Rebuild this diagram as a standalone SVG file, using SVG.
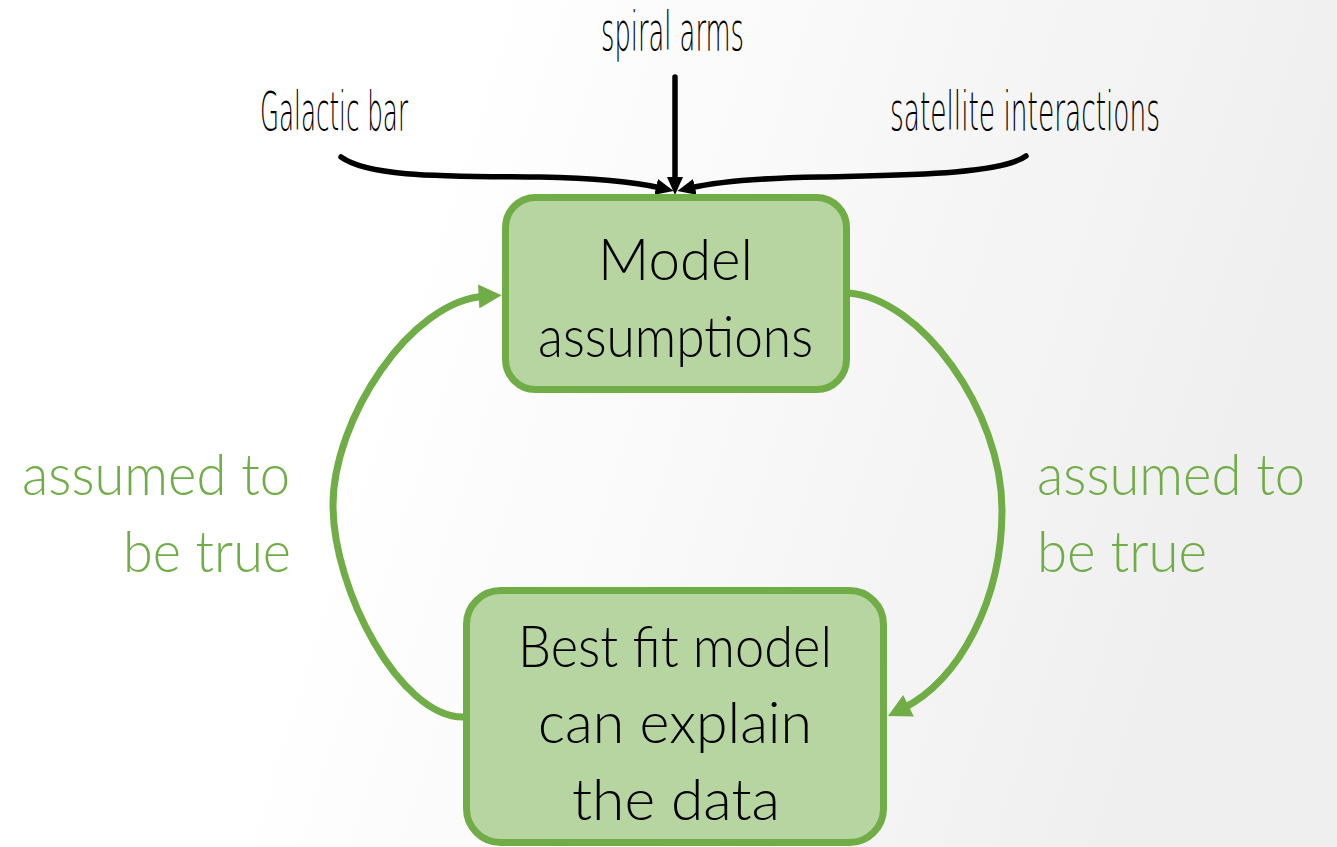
<svg xmlns="http://www.w3.org/2000/svg" width="1337" height="847" viewBox="0 0 1337 847">
  <defs>
    <linearGradient id="bg" x1="0" y1="0" x2="1" y2="0.2">
      <stop offset="0" stop-color="#ffffff"/>
      <stop offset="0.35" stop-color="#ffffff"/>
      <stop offset="1" stop-color="#efefef"/>
    </linearGradient>
    <marker id="gArrow" markerUnits="userSpaceOnUse" markerWidth="24" markerHeight="24" viewBox="0 0 22 23" refX="7" refY="11.5" orient="auto">
      <path d="M0,0 L22,11.5 L0,23 z" fill="#70ad47"/>
    </marker>
    <marker id="kArrow" markerUnits="userSpaceOnUse" markerWidth="18" markerHeight="18" viewBox="0 0 18 18" refX="5" refY="9" orient="auto">
      <path d="M0,1 L18,9 L0,17 z" fill="#000000"/>
    </marker>
  </defs>
  <style>
    .box { fill: #b6d5a1; stroke: #70ad47; stroke-width: 7; }
    .main { font-family: "Lato", "Open Sans", sans-serif; font-weight: 300; font-size: 58px; fill: #000000; }
    .green { font-family: "Lato", "Open Sans", sans-serif; font-weight: 300; font-size: 58px; fill: #70ad47; }
    .hand { font-family: "DejaVu Sans", sans-serif; font-weight: 200; font-size: 54px; fill: #000000; }
    .gline { fill: none; stroke: #70ad47; stroke-width: 7; marker-end: url(#gArrow); }
    .kline { fill: none; stroke: #000000; stroke-width: 5.5; stroke-linecap: round; marker-end: url(#kArrow); }
  </style>
  <rect x="0" y="0" width="1337" height="847" fill="url(#bg)"/>

  <g id="connectors">
    <path class="gline" d="M463,717 C400,717 333,590 333,505 C333,420 410,300 486,296"/>
    <path class="gline" d="M848,293 C920,298 1002,410 1002,510 C1002,600 960,680 902,709"/>
    <path class="kline" d="M341,157 C370,178 450,176 540,177 C600,178 635,182 661,188"/>
    <path class="kline" d="M1026,156 C1000,175 900,175 820,177 C760,178 716,182 690,188"/>
    <path class="kline" d="M675,77 L675,182"/>
  </g>

  <g id="label-galactic-bar">
    <text class="hand" x="260" y="130" textLength="148" lengthAdjust="spacingAndGlyphs">Galactic bar</text>
  </g>
  <g id="label-spiral-arms">
    <text class="hand" x="601" y="50" textLength="143" lengthAdjust="spacingAndGlyphs">spiral arms</text>
  </g>
  <g id="label-satellite">
    <text class="hand" x="890" y="130" textLength="270" lengthAdjust="spacingAndGlyphs">satellite interactions</text>
  </g>

  <g id="node-model-assumptions">
    <rect class="box" x="505.5" y="197.5" width="341" height="192" rx="30"/>
    <text class="main" x="598" y="280" textLength="155" lengthAdjust="spacingAndGlyphs">Model</text>
    <text class="main" x="538" y="357" textLength="275" lengthAdjust="spacingAndGlyphs">assumptions</text>
  </g>

  <g id="node-best-fit">
    <rect class="box" x="466.5" y="590.5" width="417" height="252" rx="34"/>
    <text class="main" x="518" y="667" textLength="314" lengthAdjust="spacingAndGlyphs">Best fit model</text>
    <text class="main" x="538" y="743" textLength="274" lengthAdjust="spacingAndGlyphs">can explain</text>
    <text class="main" x="572" y="820" textLength="208" lengthAdjust="spacingAndGlyphs">the data</text>
  </g>

  <g id="label-left">
    <text class="green" x="22" y="495" textLength="268" lengthAdjust="spacingAndGlyphs">assumed to</text>
    <text class="green" x="123" y="572" textLength="168" lengthAdjust="spacingAndGlyphs">be true</text>
  </g>
  <g id="label-right">
    <text class="green" x="1037" y="495" textLength="268" lengthAdjust="spacingAndGlyphs">assumed to</text>
    <text class="green" x="1037" y="572" textLength="170" lengthAdjust="spacingAndGlyphs">be true</text>
  </g>
</svg>
